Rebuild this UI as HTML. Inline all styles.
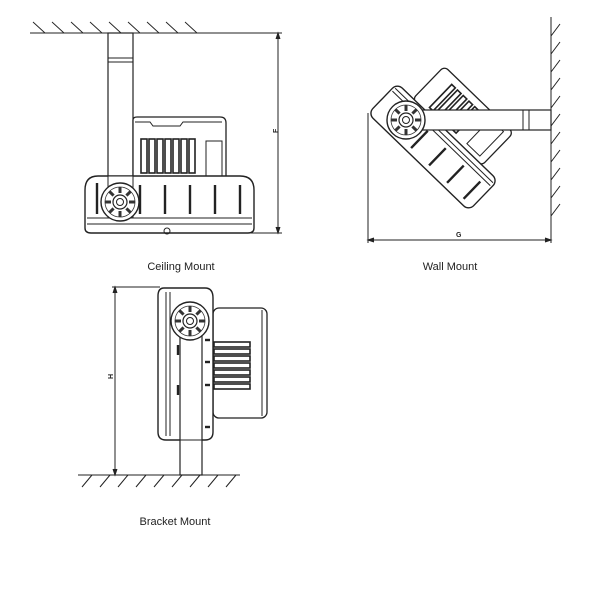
<!DOCTYPE html>
<html><head><meta charset="utf-8"><style>
html,body{margin:0;padding:0;background:#fff;}
svg{display:block;}
text{font-family:"Liberation Sans",sans-serif;}
</style></head><body>
<svg width="600" height="600" viewBox="0 0 600 600" xmlns="http://www.w3.org/2000/svg">
<defs>
<g id="knob">
  <circle r="19" fill="#fff" stroke="#222" stroke-width="1.4"/>
  <circle r="15" fill="none" stroke="#333" stroke-width="0.8"/>
  <g stroke="#333" stroke-width="3">
    <line x1="0" y1="-15" x2="0" y2="-9"/><line x1="0" y1="15" x2="0" y2="9"/>
    <line x1="-15" y1="0" x2="-9" y2="0"/><line x1="15" y1="0" x2="9" y2="0"/>
    <line x1="-10.6" y1="-10.6" x2="-6.4" y2="-6.4"/><line x1="10.6" y1="10.6" x2="6.4" y2="6.4"/>
    <line x1="-10.6" y1="10.6" x2="-6.4" y2="6.4"/><line x1="10.6" y1="-10.6" x2="6.4" y2="-6.4"/>
  </g>
  <circle r="7" fill="#fff" stroke="#222" stroke-width="1.2"/>
  <circle r="3.5" fill="none" stroke="#222" stroke-width="1"/>
</g>
</defs>
<g fill="none" stroke="#222" stroke-width="1">
<!-- Ceiling mount -->
<line x1="30" y1="33" x2="282" y2="33"/>
<g stroke-width="0.9">
<path d="M33 22 L45 33 M52 22 L64 33 M71 22 L83 33 M90 22 L102 33 M109 22 L121 33 M128 22 L140 33 M147 22 L159 33 M166 22 L178 33 M185 22 L197 33"/>
</g>
<rect x="108" y="33" width="25" height="168" fill="#fff" stroke-width="1.2"/>
<line x1="108" y1="58" x2="133" y2="58"/><line x1="108" y1="62" x2="133" y2="62"/>
<path d="M133 177 V120 Q133 117 137 117 H220 Q226 117 226 123 V177 Z" fill="#fff" stroke-width="1.3"/>
<path d="M135 122 H150 L153 126 H180 L183 122 H222"/>
<g stroke-width="1.6">
<rect x="141" y="139" width="6" height="34"/><rect x="149" y="139" width="6" height="34"/><rect x="157" y="139" width="6" height="34"/><rect x="165" y="139" width="6" height="34"/><rect x="173" y="139" width="6" height="34"/><rect x="181" y="139" width="6" height="34"/><rect x="189" y="139" width="6" height="34"/>
</g>
<rect x="206" y="141" width="16" height="36"/>
<path d="M85 228 V190 Q85 176 98 176 H240 Q254 176 254 190 V228 Q254 233 248 233 H91 Q85 233 85 228 Z" fill="#fff" stroke-width="1.4"/>
<line x1="87" y1="218" x2="252" y2="218"/><line x1="87" y1="224" x2="252" y2="224"/>
<g stroke-width="2.4">
<line x1="97" y1="183" x2="97" y2="214"/><line x1="140" y1="185" x2="140" y2="214"/><line x1="165" y1="185" x2="165" y2="214"/><line x1="190" y1="185" x2="190" y2="214"/><line x1="215" y1="185" x2="215" y2="214"/><line x1="240" y1="185" x2="240" y2="214"/>
</g>
<rect x="108" y="176" width="25" height="42" fill="#fff"/>
<circle cx="167" cy="231" r="3"/>
<use href="#knob" x="120" y="202"/>
<line x1="250" y1="233" x2="282" y2="233"/>
<line x1="278" y1="33" x2="278" y2="233"/>
<path d="M276 39 L278 33 L280 39 M276 227 L278 233 L280 227" fill="#222"/>
<!-- Wall mount -->
<line x1="551" y1="17" x2="551" y2="220"/>
<path d="M551 36 L560 24 M551 54 L560 42 M551 72 L560 60 M551 90 L560 78 M551 108 L560 96 M551 126 L560 114 M551 144 L560 132 M551 162 L560 150 M551 180 L560 168 M551 198 L560 186 M551 216 L560 204"/>
<g transform="translate(433 147) rotate(44)">
  <rect x="-48" y="-66" width="96" height="46" rx="5" fill="#fff" stroke-width="1.3"/>
  <g stroke-width="1.6">
  <rect x="-30" y="-58" width="5" height="32"/><rect x="-22" y="-58" width="5" height="32"/><rect x="-14" y="-58" width="5" height="32"/><rect x="-6" y="-58" width="5" height="32"/><rect x="2" y="-58" width="5" height="32"/>
  </g>
  <rect x="22" y="-60" width="18" height="34"/>
  <rect x="-70" y="-21" width="140" height="42" rx="7" fill="#fff" stroke-width="1.4"/>
  <line x1="-68" y1="-12" x2="68" y2="-12"/><line x1="-68" y1="-16" x2="68" y2="-16"/>
  <g stroke-width="2.4">
  <line x1="-40" y1="-8" x2="-40" y2="16"/><line x1="-15" y1="-8" x2="-15" y2="16"/><line x1="10" y1="-8" x2="10" y2="16"/><line x1="35" y1="-8" x2="35" y2="16"/><line x1="58" y1="-8" x2="58" y2="16"/>
  </g>
</g>
<rect x="402" y="110" width="149" height="20" fill="#fff" stroke-width="1.2"/>
<line x1="523" y1="110" x2="523" y2="130"/><line x1="529" y1="110" x2="529" y2="130"/>
<use href="#knob" x="406" y="120"/>
<line x1="368" y1="113" x2="368" y2="243"/>
<line x1="551" y1="220" x2="551" y2="243"/>
<line x1="368" y1="240" x2="551" y2="240"/>
<path d="M374 238 L368 240 L374 242 M545 238 L551 240 L545 242" fill="#222"/>
<!-- Bracket mount -->
<line x1="78" y1="475" x2="240" y2="475"/>
<path d="M82 487 L92 475 M100 487 L110 475 M118 487 L128 475 M136 487 L146 475 M154 487 L164 475 M172 487 L182 475 M190 487 L200 475 M208 487 L218 475 M226 487 L236 475"/>
<rect x="213" y="308" width="54" height="110" rx="6" fill="#fff" stroke-width="1.3"/>
<line x1="262" y1="310" x2="262" y2="416"/>
<g stroke-width="1.6">
<rect x="214" y="342" width="36" height="5"/><rect x="214" y="349" width="36" height="5"/><rect x="214" y="356" width="36" height="5"/><rect x="214" y="363" width="36" height="5"/><rect x="214" y="370" width="36" height="5"/><rect x="214" y="377" width="36" height="5"/><rect x="214" y="384" width="36" height="5"/>
</g>
<path d="M164 288 H205 Q213 288 213 298 V432 Q213 440 205 440 H166 Q158 440 158 432 V296 Q158 288 164 288 Z" fill="#fff" stroke-width="1.4"/>
<line x1="166" y1="292" x2="166" y2="436"/><line x1="170" y1="292" x2="170" y2="436"/>
<g stroke-width="2.4">
<line x1="205" y1="340" x2="210" y2="340"/><line x1="205" y1="362" x2="210" y2="362"/><line x1="205" y1="385" x2="210" y2="385"/><line x1="205" y1="427" x2="210" y2="427"/><line x1="178" y1="345" x2="178" y2="355"/><line x1="178" y1="385" x2="178" y2="395"/>
</g>
<rect x="180" y="330" width="22" height="145" fill="#fff" stroke-width="1.2"/>
<line x1="180" y1="440" x2="202" y2="440"/>
<use href="#knob" x="190" y="321"/>
<line x1="112" y1="287" x2="160" y2="287"/>
<line x1="115" y1="287" x2="115" y2="475"/>
<path d="M113 293 L115 287 L117 293 M113 469 L115 475 L117 469" fill="#222"/>
</g>
<g fill="#222" font-size="7" font-weight="bold">
<text x="274" y="133" transform="rotate(-90 276 131)">F</text>
<text x="456" y="237">G</text>
<text x="113" y="383" transform="rotate(-90 111 381)">H</text>
</g>
<g fill="#222" font-size="11">
<text x="181" y="270" text-anchor="middle">Ceiling Mount</text>
<text x="450" y="270" text-anchor="middle">Wall Mount</text>
<text x="175" y="525" text-anchor="middle">Bracket Mount</text>
</g>
</svg>
</body></html>
